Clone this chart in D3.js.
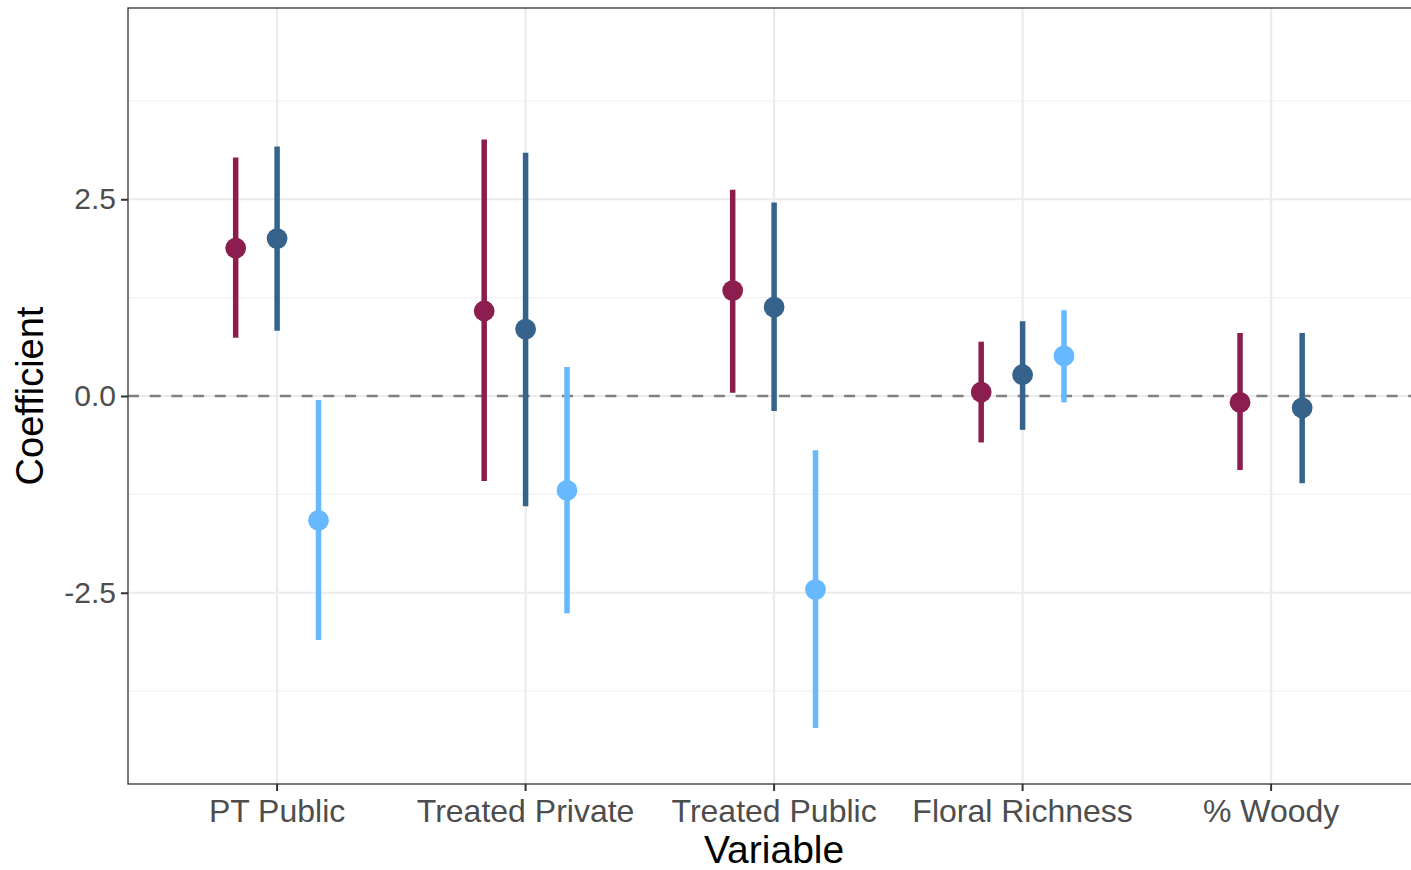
<!DOCTYPE html>
<html>
<head>
<meta charset="utf-8">
<script src="https://cdn.jsdelivr.net/npm/d3@7"></script>
<style>
  html, body { margin: 0; padding: 0; background: #fff; overflow: hidden; }
  svg { display: block; font-family: "Liberation Sans", Arial, sans-serif; }
</style>
</head>
<body>
<svg id="chart" width="1411" height="870"></svg>
<script>
// Coefficient estimates with intervals for three models per variable
const variables = ["PT Public", "Treated Private", "Treated Public", "Floral Richness", "% Woody"];
const models = ["m1", "m2", "m3"];
const modelColors = ["#8B1E4F", "#35638B", "#66B8FF"];

const estM1 = [1.88, 1.08, 1.34, 0.05, -0.08];
const lowM1 = [0.74, -1.08, 0.04, -0.59, -0.94];
const highM1 = [3.03, 3.26, 2.62, 0.69, 0.80];

const estM2 = [2.00, 0.85, 1.13, 0.27, -0.15];
const lowM2 = [0.83, -1.40, -0.19, -0.43, -1.11];
const highM2 = [3.17, 3.09, 2.46, 0.95, 0.80];

const estM3 = [-1.58, -1.20, -2.46, 0.51, null];
const lowM3 = [-0.05, 0.37, -0.69, -0.08, null];
const highM3 = [-3.10, -2.76, -4.22, 1.09, null];

const yTicks = [-2.5, 0, 2.5];
const yMinor = [-3.75, -1.25, 1.25, 3.75];

const est = [estM1, estM2, estM3];
const low = [lowM1, lowM2, lowM3];
const high = [highM1, highM2, highM3];

const rows = [];
variables.forEach((v, vi) => {
  const present = models.map((m, mi) => mi).filter(mi => est[mi][vi] !== null);
  present.forEach((mi, k) => {
    rows.push({
      variable: v, model: models[mi], mi,
      slot: k, nSlots: present.length,
      est: est[mi][vi], lo: low[mi][vi], hi: high[mi][vi]
    });
  });
});

const svg = d3.select("#chart");
const margin = { left: 128, top: 8 };
const step = 248.5;                       // pixels between categories
const pw = step * (variables.length - 1 + 1.2);
const ph = 776;

const g = svg.append("g").attr("transform", `translate(${margin.left},${margin.top})`);

// discrete x axis with 0.6 expansion on each side
const xIdx = d3.scaleLinear().domain([-0.6, variables.length - 1 + 0.6]).range([0, pw]);
const x = v => xIdx(variables.indexOf(v));
const dodgeWidth = 0.5;
const y = d3.scaleLinear().domain([-4.93, 4.93]).range([ph, 0]);

// grid
g.append("g").selectAll("line").data(yMinor).join("line")
  .attr("x1", 0).attr("x2", pw)
  .attr("y1", d => y(d)).attr("y2", d => y(d))
  .attr("stroke", "#F2F2F2").attr("stroke-width", 1.2);
g.append("g").selectAll("line").data(yTicks).join("line")
  .attr("x1", 0).attr("x2", pw)
  .attr("y1", d => y(d)).attr("y2", d => y(d))
  .attr("stroke", "#EBEBEB").attr("stroke-width", 2.2);
g.append("g").selectAll("line").data(variables).join("line")
  .attr("x1", d => x(d)).attr("x2", d => x(d))
  .attr("y1", 0).attr("y2", ph)
  .attr("stroke", "#EBEBEB").attr("stroke-width", 2.2);

// zero reference line
g.append("line")
  .attr("x1", 0).attr("x2", pw)
  .attr("y1", y(0)).attr("y2", y(0))
  .attr("stroke", "#808080").attr("stroke-width", 2.5)
  .attr("stroke-dasharray", "11,10.7");

// dodged x position within each category
const px = d => xIdx(variables.indexOf(d.variable) +
  (d.slot - (d.nSlots - 1) / 2) * dodgeWidth / d.nSlots);

// intervals
g.append("g").selectAll("line").data(rows).join("line")
  .attr("x1", px).attr("x2", px)
  .attr("y1", d => y(d.lo)).attr("y2", d => y(d.hi))
  .attr("stroke", d => modelColors[d.mi]).attr("stroke-width", 5.5);

// point estimates
g.append("g").selectAll("circle").data(rows).join("circle")
  .attr("cx", px).attr("cy", d => y(d.est)).attr("r", 10.4)
  .attr("fill", d => modelColors[d.mi]);

// panel border
g.append("rect").attr("x", 0).attr("y", 0).attr("width", pw).attr("height", ph)
  .attr("fill", "none").attr("stroke", "#333333").attr("stroke-width", 1.3);

// y axis
const yAxis = g.append("g").call(d3.axisLeft(y).tickValues(yTicks).tickFormat(d3.format(".1f")).tickSize(7).tickPadding(5));
yAxis.select(".domain").remove();
yAxis.selectAll("line").attr("stroke", "#333333").attr("stroke-width", 2);
yAxis.selectAll("text").attr("fill", "#4D4D4D").style("font-size", "30px").text(d => d3.format(".1f")(d).replace("\u2212", "-"));

// x axis
const xAxis = g.append("g").attr("transform", `translate(0,${ph})`);
xAxis.selectAll("line").data(variables).join("line")
  .attr("x1", d => x(d)).attr("x2", d => x(d)).attr("y1", 0).attr("y2", 7)
  .attr("stroke", "#333333").attr("stroke-width", 2);
xAxis.selectAll("text").data(variables).join("text")
  .attr("x", d => x(d)).attr("y", 38)
  .attr("text-anchor", "middle").attr("fill", "#4D4D4D")
  .style("font-size", "32px").text(d => d);

// axis titles
svg.append("text").attr("x", margin.left + x(variables[2])).attr("y", 863)
  .attr("text-anchor", "middle").attr("fill", "#000").style("font-size", "39px").text("Variable");
svg.append("text").attr("transform", `translate(43,${margin.top + ph / 2}) rotate(-90)`)
  .attr("text-anchor", "middle").attr("fill", "#000").style("font-size", "38px").text("Coefficient");
</script>
</body>
</html>
